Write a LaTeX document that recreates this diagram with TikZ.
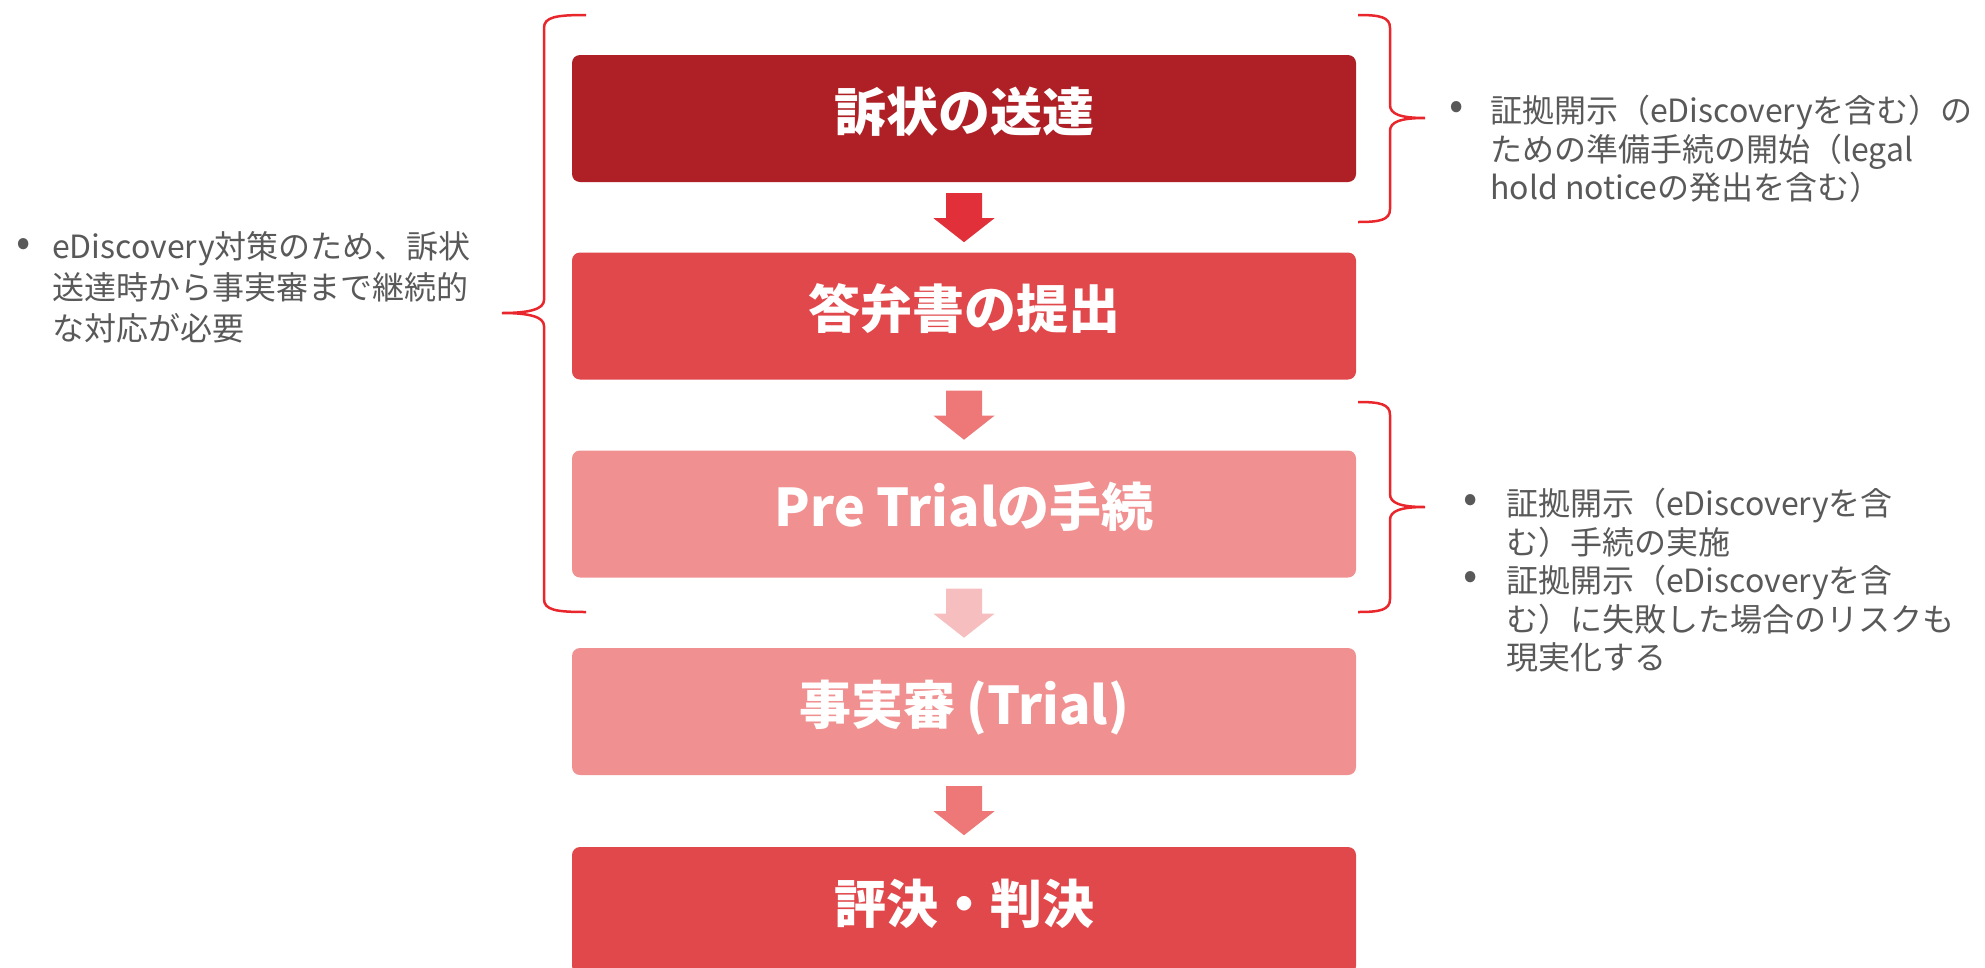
\documentclass[tikz,border=0pt]{standalone}
\usepackage{fontspec}
\setmainfont{Noto Sans CJK JP}
\usetikzlibrary{calc}
\definecolor{boxA}{HTML}{AE2026}
\definecolor{boxB}{HTML}{E0484B}
\definecolor{boxC}{HTML}{F09090}
\definecolor{arrA}{HTML}{E2303A}
\definecolor{arrB}{HTML}{EE7777}
\definecolor{arrC}{HTML}{F6BEBE}
\definecolor{braceRed}{HTML}{E8262B}
\definecolor{noteGray}{HTML}{595959}
\newcommand\blockarr[2]{%
  \fill[#2] ($(#1.south)+(-18,11)$) -- ++(36,0) -- ++(0,25) -- ++(12.5,0)
    -- ($(#1.south)+(0,60)$) -- ($(#1.south)+(-30.5,36)$) -- ++(12.5,0) -- cycle;}
\begin{document}
\begin{tikzpicture}[x=1pt,y=-1pt,
  stepbox/.style={rounded corners=8pt, minimum width=784pt, minimum height=127pt,
    inner sep=0pt, text=white, font=\fontsize{52}{60}\selectfont\bfseries,
    text height=30pt, text depth=4.5pt},
  bracestyle/.style={draw=braceRed, line width=2.5pt},
  note/.style={text=noteGray, inner sep=0pt, align=left, anchor=north west},
  bulletstyle/.style={text=noteGray, inner sep=0pt, font=\fontsize{42}{48}\selectfont}]
\useasboundingbox (0,0) rectangle (1985,967);
\clip (0,0) rectangle (1985,967);
% boxes
\node[stepbox, fill=boxA] (b1) at (964,118.5) {訴状の送達};
\node[stepbox, fill=boxB] (b2) at (964,316) {答弁書の提出};
\node[stepbox, fill=boxC] (b3) at (964,514) {Pre Trialの手続};
\node[stepbox, fill=boxC] (b4) at (964,711.5) {事実審 (Trial)};
\node[stepbox, fill=boxB] (b5) at (964,910.5) {評決・判決};
% arrows
\blockarr{b1}{arrA}
\blockarr{b2}{arrB}
\blockarr{b3}{arrC}
\blockarr{b4}{arrB}
% left brace
\draw[bracestyle] (586,15) .. controls (556,15) and (544,17) .. (544,28)
  -- (544,300) .. controls (544,309) and (530,313) .. (502,313)
  .. controls (530,313) and (544,317) .. (544,326)
  -- (544,599) .. controls (544,610) and (556,612) .. (586,612);
% right brace 1
\draw[bracestyle] (1358,15) .. controls (1380,15) and (1390,17) .. (1390,28)
  -- (1390,105) .. controls (1390,114) and (1400,118) .. (1425,118)
  .. controls (1400,118) and (1390,122) .. (1390,131)
  -- (1390,209) .. controls (1390,220) and (1380,222) .. (1358,222);
% right brace 2
\draw[bracestyle] (1358,402) .. controls (1380,402) and (1390,404) .. (1390,415)
  -- (1390,494) .. controls (1390,503) and (1400,507) .. (1425,507)
  .. controls (1400,507) and (1390,511) .. (1390,520)
  -- (1390,599) .. controls (1390,610) and (1380,612) .. (1358,612);
% left note
\node[bulletstyle] (lb) at (24,247) {•};
\node[note, font=\fontsize{32}{41}\selectfont] (lt) at (52,231)
  {eDiscovery対策のため、訴状\\送達時から事実審まで継続的\\な対応が必要};
% right note 1
\node[bulletstyle] (rb1) at (1457,110) {•};
\node[note, font=\fontsize{32}{38.5}\selectfont] (rt1) at (1490,95)
  {証拠開示（eDiscoveryを含む）の\\ための準備手続の開始（legal\\hold noticeの発出を含む）};
% right note 2
\node[bulletstyle] (rb2) at (1471,503) {•};
\node[bulletstyle] (rb3) at (1471,580) {•};
\node[note, font=\fontsize{32}{38.5}\selectfont] (rt2) at (1506,488)
  {証拠開示（eDiscoveryを含\\む）手続の実施\\証拠開示（eDiscoveryを含\\む）に失敗した場合のリスクも\\現実化する};
\end{tikzpicture}
\end{document}
